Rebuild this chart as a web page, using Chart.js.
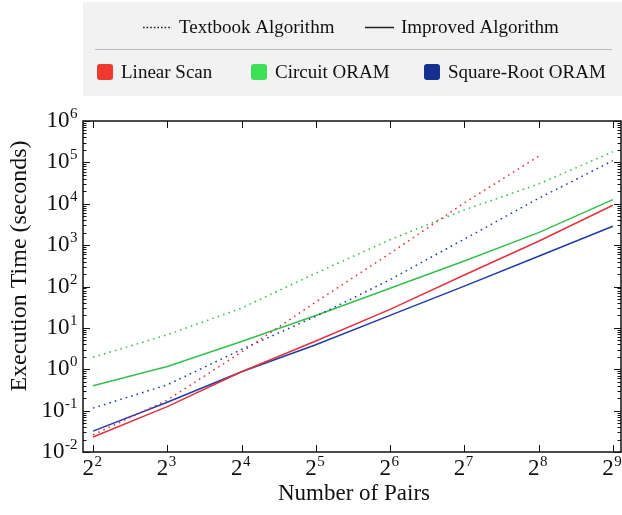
<!DOCTYPE html>
<html>
<head>
<meta charset="utf-8">
<script src="https://cdn.jsdelivr.net/npm/chart.js@4"></script>
<style>
  body { margin: 0; background: #fff; }
  #wrap { position: relative; width: 622px; height: 515px; }
</style>
</head>
<body>
<div id="wrap">
  <canvas id="chart" width="622" height="515"></canvas>
</div>
<script>
// x values are the exponents n of 2^n (number of pairs)
const exponents = [2, 3, 4, 5, 6, 7, 8, 9];

// Execution time in seconds
const textbookLinear = [0.026, 0.18, 2.6, 42, 630, 10500, 140000]; // stops at 2^8
const textbookCircuit = [1.95, 6.8, 30, 210, 1350, 7100, 30000, 180000];
const textbookSqrt = [0.115, 0.42, 3.0, 19, 146, 1400, 13500, 110000];
const improvedLinear = [0.023, 0.125, 0.87, 4.8, 28, 190, 1240, 9200];
const improvedCircuit = [0.4, 1.17, 4.7, 20, 91, 415, 2000, 12600];
const improvedSqrt = [0.032, 0.16, 0.87, 3.9, 20, 102, 540, 2870];

const yTickExponents = [-2, -1, 0, 1, 2, 3, 4, 5, 6];

const xTitle = 'Number of Pairs';
const yTitle = 'Execution Time (seconds)';
const styleLabels = ['Textbook Algorithm', 'Improved Algorithm'];
const methodLabels = ['Linear Scan', 'Circuit ORAM', 'Square-Root ORAM'];

const colors = {
    red: '#e2323c',
    green: '#35bf4c',
    blue: '#1f3ca6'
};
const swatchColors = ['#ee3a2e', '#3ddf55', '#15308c'];

const FONT = '"Liberation Serif", "Times New Roman", serif';

const points = vals => vals.map((v, i) => ({ x: exponents[i], y: v }));

function series(label, vals, color, dotted) {
    return {
        label: label,
        data: points(vals),
        borderColor: color,
        backgroundColor: color,
        borderWidth: 1.5,
        borderDash: dotted ? [1.6, 4.1] : [],
        borderCapStyle: 'butt',
        pointRadius: 0,
        tension: 0,
        fill: false
    };
}

// draws "base^exp" with a real raised exponent; align is 'center' or 'right'
function drawPower(ctx, base, exp, x, baseline, align, baseSize, expSize, raise) {
    ctx.font = baseSize + 'px ' + FONT;
    const wb = ctx.measureText(base).width;
    ctx.font = expSize + 'px ' + FONT;
    const we = ctx.measureText(exp).width;
    const left = align === 'right' ? x - wb - we : x - (wb + we) / 2;
    ctx.textAlign = 'left';
    ctx.textBaseline = 'alphabetic';
    ctx.font = baseSize + 'px ' + FONT;
    ctx.fillText(base, left, baseline);
    ctx.font = expSize + 'px ' + FONT;
    ctx.fillText(exp, left + wb + 0.5, baseline - raise);
}

// two-row legend box above the plot
const legendBox = {
    id: 'legendBox',
    beforeDraw(chart) {
        const ctx = chart.ctx;
        ctx.save();
        ctx.fillStyle = '#f2f2f2';
        ctx.fillRect(83, 2, 539, 94);
        ctx.strokeStyle = '#bbb';
        ctx.lineWidth = 1;
        ctx.beginPath();
        ctx.moveTo(95, 49.5); ctx.lineTo(612, 49.5);
        ctx.stroke();

        ctx.strokeStyle = '#222';
        ctx.lineWidth = 1.5;
        ctx.setLineDash([1.6, 2]);
        ctx.beginPath();
        ctx.moveTo(143, 27.5); ctx.lineTo(172, 27.5);
        ctx.stroke();
        ctx.setLineDash([]);
        ctx.beginPath();
        ctx.moveTo(365, 27.5); ctx.lineTo(394, 27.5);
        ctx.stroke();

        ctx.fillStyle = '#111';
        ctx.font = '19px ' + FONT;
        ctx.textAlign = 'left';
        ctx.textBaseline = 'middle';
        ctx.fillText(styleLabels[0], 179, 28);
        ctx.fillText(styleLabels[1], 401, 28);

        const swatchX = [97, 251, 424];
        methodLabels.forEach((label, i) => {
            ctx.fillStyle = swatchColors[i];
            ctx.beginPath();
            ctx.roundRect(swatchX[i], 64, 16, 16, 3);
            ctx.fill();
            ctx.fillStyle = '#111';
            ctx.fillText(label, swatchX[i] + 24, 73);
        });
        ctx.restore();
    }
};

// frame, inward ticks (major and minor), tick labels and axis titles
const frameTicks = {
    id: 'frameTicks',
    afterDraw(chart) {
        const { ctx, chartArea: a, scales } = chart;
        ctx.save();
        ctx.strokeStyle = '#111';
        ctx.lineWidth = 1.5;
        ctx.strokeRect(a.left, a.top, a.right - a.left, a.bottom - a.top);
        ctx.lineWidth = 1;
        ctx.beginPath();
        exponents.forEach(e => {
            const px = Math.round(scales.x.getPixelForValue(e)) + 0.5;
            ctx.moveTo(px, a.bottom); ctx.lineTo(px, a.bottom - 7);
            ctx.moveTo(px, a.top); ctx.lineTo(px, a.top + 7);
        });
        for (let e = -2; e <= 6; e++) {
            for (let m = 1; m <= 9; m++) {
                const v = m * Math.pow(10, e);
                if (v > 1e6) break;
                const py = Math.round(scales.y.getPixelForValue(v)) + 0.5;
                const len = m === 1 ? 7 : 3.5;
                ctx.moveTo(a.left, py); ctx.lineTo(a.left + len, py);
                ctx.moveTo(a.right, py); ctx.lineTo(a.right - len, py);
            }
        }
        ctx.stroke();

        ctx.fillStyle = '#111';
        exponents.forEach(e => {
            const px = scales.x.getPixelForValue(e);
            drawPower(ctx, '2', String(e), px - 1, a.bottom + 23, 'center', 23, 15, 9);
        });
        yTickExponents.forEach(e => {
            const py = scales.y.getPixelForValue(Math.pow(10, e));
            drawPower(ctx, '10', String(e), a.left - 6, py + 6, 'right', 23, 15, 9);
        });

        ctx.textAlign = 'center';
        ctx.textBaseline = 'middle';
        ctx.font = '23px ' + FONT;
        ctx.fillText(xTitle, 354, 494);
        ctx.translate(20, 266);
        ctx.rotate(-Math.PI / 2);
        ctx.font = '24px ' + FONT;
        ctx.fillText(yTitle, 0, 0);
        ctx.restore();
    }
};

new Chart(document.getElementById('chart').getContext('2d'), {
    type: 'line',
    data: {
        datasets: [
            series('Textbook Linear Scan', textbookLinear, colors.red, true),
            series('Textbook Circuit ORAM', textbookCircuit, colors.green, true),
            series('Textbook Square-Root ORAM', textbookSqrt, colors.blue, true),
            series('Improved Linear Scan', improvedLinear, colors.red, false),
            series('Improved Circuit ORAM', improvedCircuit, colors.green, false),
            series('Improved Square-Root ORAM', improvedSqrt, colors.blue, false)
        ]
    },
    plugins: [legendBox, frameTicks],
    options: {
        responsive: false,
        animation: false,
        devicePixelRatio: 1,
        layout: { padding: { top: 121, right: 1, left: 0, bottom: 0 } },
        plugins: {
            legend: { display: false },
            tooltip: { enabled: false }
        },
        scales: {
            x: {
                type: 'linear',
                min: 1.865,
                max: 9.11,
                afterBuildTicks: scale => { scale.ticks = exponents.map(e => ({ value: e })); },
                afterFit: scale => { scale.height = 63; },
                grid: { display: false },
                border: { display: false },
                ticks: { display: false }
            },
            y: {
                type: 'logarithmic',
                min: 0.01,
                max: 1e6,
                afterBuildTicks: scale => { scale.ticks = yTickExponents.map(e => ({ value: Math.pow(10, e) })); },
                afterFit: scale => { scale.width = 83; },
                grid: { display: false },
                border: { display: false },
                ticks: { display: false }
            }
        }
    }
});
</script>
</body>
</html>
